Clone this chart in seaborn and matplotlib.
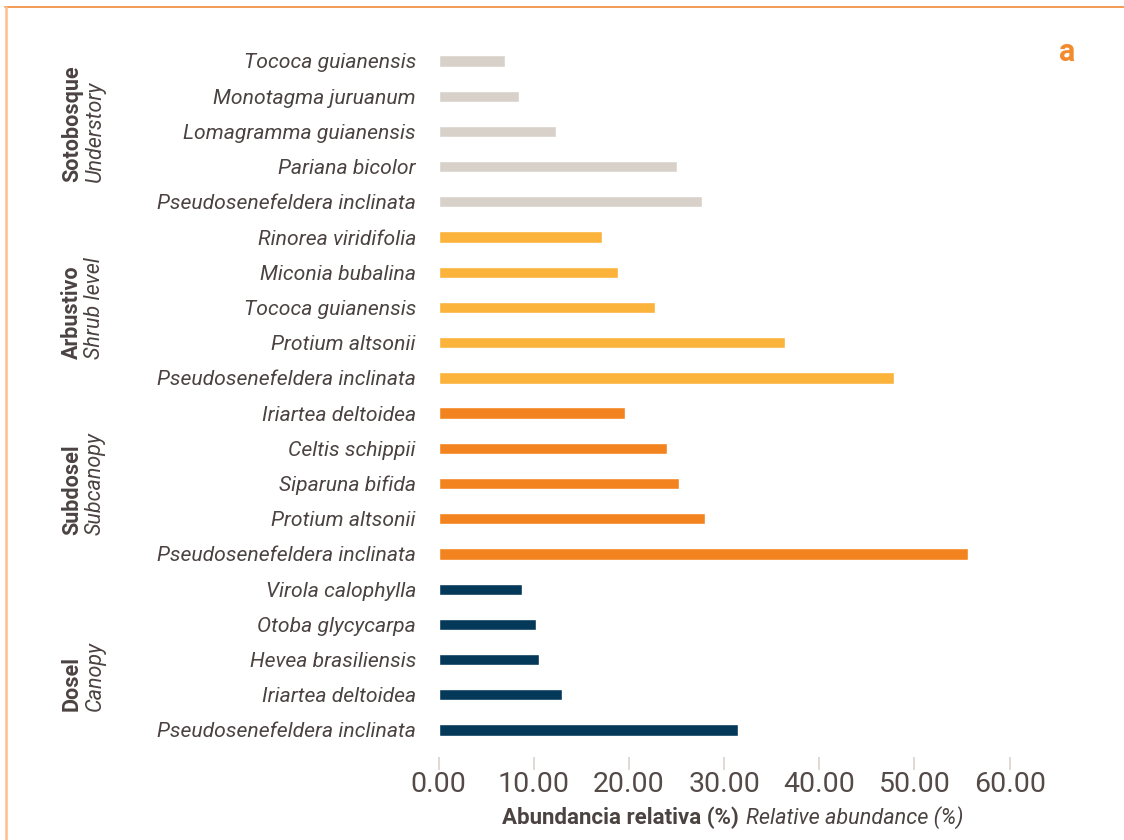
import matplotlib
matplotlib.use("Agg")
import matplotlib.pyplot as plt
import matplotlib.transforms as mtransforms
from matplotlib.lines import Line2D
import seaborn as sns
import pandas as pd

# ---- data ----
groups = ["Sotobosque", "Arbustivo", "Subdosel", "Dosel"]
groups_en = ["Understory", "Shrub level", "Subcanopy", "Canopy"]

understory_species = ["Tococa guianensis", "Monotagma juruanum", "Lomagramma guianensis",
                      "Pariana bicolor", "Pseudosenefeldera inclinata"]
understory_values = [7.0, 8.5, 12.3, 25.0, 27.7]

shrub_species = ["Rinorea viridifolia", "Miconia bubalina", "Tococa guianensis",
                 "Protium altsonii", "Pseudosenefeldera inclinata"]
shrub_values = [17.2, 18.9, 22.7, 36.4, 47.8]

subcanopy_species = ["Iriartea deltoidea", "Celtis schippii", "Siparuna bifida",
                     "Protium altsonii", "Pseudosenefeldera inclinata"]
subcanopy_values = [19.6, 24.0, 25.3, 28.0, 55.6]

canopy_species = ["Virola calophylla", "Otoba glycycarpa", "Hevea brasiliensis",
                  "Iriartea deltoidea", "Pseudosenefeldera inclinata"]
canopy_values = [8.8, 10.2, 10.5, 13.0, 31.5]

xticks = [0, 10, 20, 30, 40, 50, 60]
xtick_labels = ["0.00", "10.00", "20.00", "30.00", "40.00", "50.00", "60.00"]

colors = {"Sotobosque": "#d8d1ca", "Arbustivo": "#fbb33b",
          "Subdosel": "#f3831f", "Dosel": "#05395a"}

species_by_group = [understory_species, shrub_species, subcanopy_species, canopy_species]
values_by_group = [understory_values, shrub_values, subcanopy_values, canopy_values]

rows = []
for g, sp, vals in zip(groups, species_by_group, values_by_group):
    for s, v in zip(sp, vals):
        rows.append({"group": g, "species": s, "value": v})
df = pd.DataFrame(rows)
df["row"] = [str(i) for i in range(len(df))]

# ---- style ----
sns.set_theme(style="white")
plt.rcParams["font.family"] = ["Roboto", "DejaVu Sans"]
TXT = "#4b4341"

W, H = 1124, 840
fig = plt.figure(figsize=(W / 100, H / 100), dpi=100)

# axes placement (pixel based)
x0_px, x1_px = 424.3, 1028.7
xmin, xmax = -1.5, 62.0
row_px = 35.21
top_px = 61 - 0.5 * row_px
ybot = 19.77
bot_px = 61 + ybot * row_px
ax = fig.add_axes([x0_px / W, 1 - bot_px / H, (x1_px - x0_px) / W, (bot_px - top_px) / H])

sns.barplot(data=df, y="row", x="value", hue="group", palette=colors,
            order=df["row"].tolist(), hue_order=groups, dodge=False,
            width=0.32, orient="h", legend=False, saturation=1, ax=ax)

ax.set_xlim(xmin, xmax)
ax.set_ylim(ybot, -0.5)
for sp in ax.spines.values():
    sp.set_visible(False)
ax.set_xlabel("")
ax.set_ylabel("")

ax.set_yticks(range(len(df)))
ax.set_yticklabels(df["species"], fontsize=15.2, style="italic",
                   fontweight="normal", color=TXT)
ax.tick_params(axis="y", length=0, pad=6)

ax.set_xticks(xticks)
ax.set_xticklabels(xtick_labels, fontsize=20.5, fontweight="normal", color="#544b49")
ax.tick_params(axis="x", direction="out", length=9, width=1.1,
               color="#d6d0ca", pad=1, bottom=True)

# group labels
trans = mtransforms.blended_transform_factory(fig.transFigure, ax.transData)
for i, (g, ge) in enumerate(zip(groups, groups_en)):
    ybottom = i * 5 + 4 - 0.55
    fig.text(72 / W, ybottom, g, rotation=90, ha="center", va="bottom",
             fontsize=15.5, fontweight="bold", color=TXT, transform=trans)
    fig.text(95 / W, ybottom, ge, rotation=90, ha="center", va="bottom",
             fontsize=15.5, style="italic", fontweight="normal", color=TXT,
             transform=trans)

# x-axis title (two styles)
fig.text(739 / W, 1 - 818 / H, "Abundancia relativa (%)", ha="right", va="center",
         fontsize=16, fontweight="bold", color=TXT)
fig.text(746 / W, 1 - 818 / H, "Relative abundance (%)", ha="left", va="center",
         fontsize=15.6, style="italic", fontweight="normal", color=TXT)

# panel letter
fig.text(1067 / W, 1 - 52 / H, "a", ha="center", va="center",
         fontsize=22, fontweight="bold", color="#f28a2e")

# frame decoration
fig.add_artist(Line2D([5 / W, 1], [1 - 7 / H, 1 - 7 / H], transform=fig.transFigure,
                      color="#f08a3a", lw=1.2))
fig.add_artist(Line2D([6 / W, 6 / W], [0, 1 - 7 / H], transform=fig.transFigure,
                      color="#fcc08a", lw=1.8))

fig.savefig("out.png", dpi=100)
